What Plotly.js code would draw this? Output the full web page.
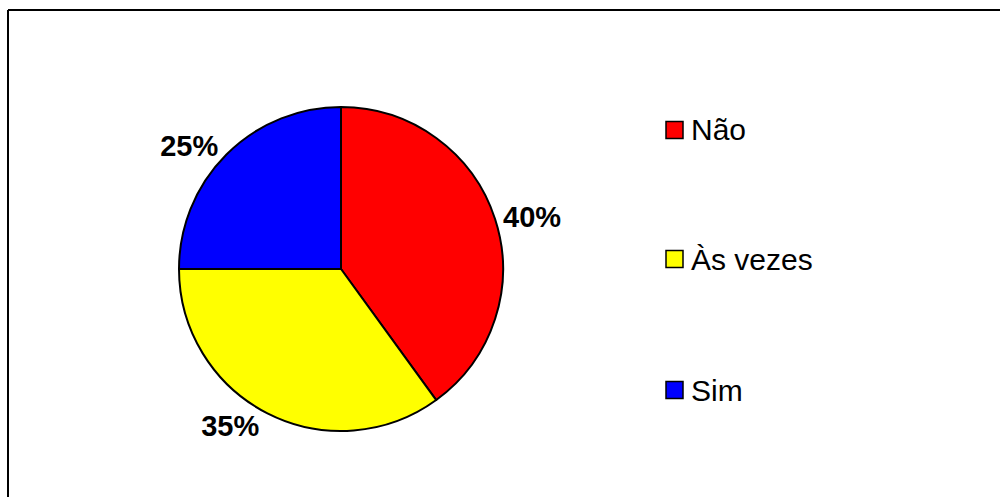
<!DOCTYPE html>
<html>
<head>
<meta charset="utf-8">
<script src="https://cdn.plot.ly/plotly-3.0.1.min.js"></script>
<style>html,body{margin:0;padding:0;background:#fff;}#chart{width:1000px;height:497px;}</style>
</head>
<body>
<div id="chart"></div>
<script>
const labels = ["Não", "Às vezes", "Sim"];
const values = [40, 35, 25];
const colors = ["#FF0000", "#FFFF00", "#0000FF"];

const W = 1000, H = 497;
const px = x => x / W;
const py = y => 1 - y / H;

// pie placement (pixels)
const cx = 341, cy = 269, r = 162;

const trace = {
  type: "pie",
  labels: labels,
  values: values,
  sort: false,
  direction: "clockwise",
  rotation: 0,
  marker: {colors: colors, line: {color: "#000000", width: 2}},
  textinfo: "percent",
  textposition: "outside",
  textfont: {family: "Liberation Sans, Arial, sans-serif", size: 29, color: "#000", weight: "bold"},
  domain: {x: [px(cx - r), px(cx + r)], y: [py(cy + r), py(cy - r)]},
  showlegend: false,
  hoverinfo: "label+percent"
};

const shapes = [
  {type: "line", xref: "paper", yref: "paper", x0: px(8), x1: px(1000), y0: py(10), y1: py(10), line: {color: "#000", width: 2}},
  {type: "line", xref: "paper", yref: "paper", x0: px(8), x1: px(8), y0: py(10), y1: py(497), line: {color: "#000", width: 2}}
];
const annotations = [];
const legendY = [130, 259, 390];
labels.forEach((lab, i) => {
  const yc = legendY[i];
  shapes.push({type: "rect", xref: "paper", yref: "paper",
    x0: px(666), x1: px(683), y0: py(yc + 8.5), y1: py(yc - 8.5),
    fillcolor: colors[i], line: {color: "#000", width: 1.5}});
  annotations.push({xref: "paper", yref: "paper", x: px(689), y: py(yc), xanchor: "left", yanchor: "middle",
    text: lab, showarrow: false, font: {family: "Liberation Sans, Arial, sans-serif", size: 30, color: "#000"}});
});

const layout = {
  width: W, height: H,
  margin: {l: 0, r: 0, t: 0, b: 0},
  paper_bgcolor: "#fff",
  plot_bgcolor: "#fff",
  showlegend: false,
  shapes: shapes,
  annotations: annotations
};

Plotly.newPlot("chart", [trace], layout, {displayModeBar: false, staticPlot: true});
</script>
</body>
</html>
